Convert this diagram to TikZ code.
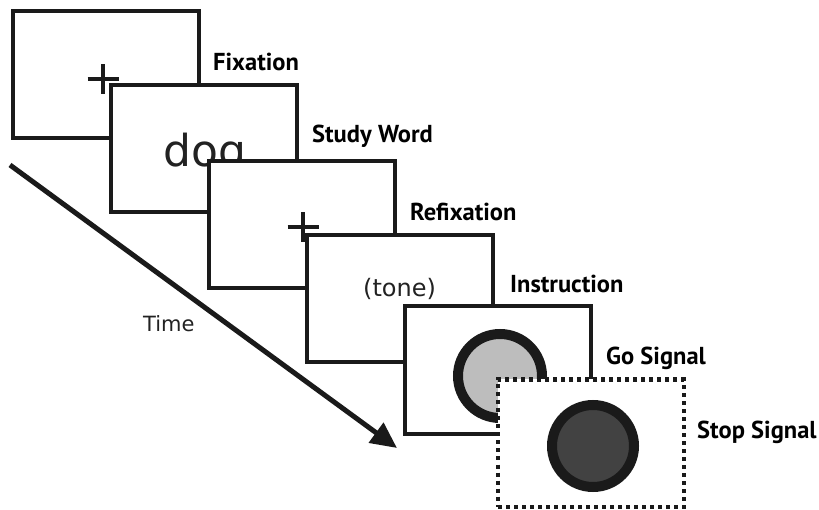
\documentclass[tikz,border=0pt]{standalone}
\usepackage{fontspec}
\setmainfont{DejaVu Sans}
\newfontfamily\labelfont{PT Sans}
\usetikzlibrary{arrows.meta}
\definecolor{ink}{HTML}{1A1A1A}
\definecolor{softink}{HTML}{222222}
\definecolor{golight}{HTML}{BDBDBD}
\definecolor{stopdark}{HTML}{424242}
\tikzset{
  screen/.style={draw=ink, line width=4pt, fill=white, minimum width=186pt, minimum height=127pt, inner sep=0pt},
  dotscreen/.style={screen, draw=ink, dash pattern=on 4pt off 4pt},
  lbl/.style={anchor=base west, inner sep=0pt, font=\labelfont\bfseries\fontsize{24.5}{28}\selectfont, text=black},
  stim/.style={anchor=base west, inner sep=0pt, text=softink},
  crossbar/.style={draw=ink, line width=3.5pt},
  signal/.style={circle, draw=ink, line width=10pt, minimum size=84pt, inner sep=0pt},
  timearrow/.style={draw=ink, line width=5pt, -{Triangle[length=26pt,width=24pt]}}
}
\begin{document}
\begin{tikzpicture}[x=1pt,y=-1pt]
\useasboundingbox (0,0) rectangle (819,510);
% screen 1
\node[screen] (s1) at (106,75) {};
\coordinate (p1) at (103,79);
\draw[crossbar] ([xshift=-15.5pt]p1) -- ([xshift=15.5pt]p1);
\draw[crossbar] ([yshift=-15pt]p1) -- ([yshift=15pt]p1);
% screen 2
\node[screen] (s2) at (204,149) {};
\node[stim, font=\fontsize{44}{50}\selectfont] (dog) at (163,167) {dog};
% screen 3
\node[screen] (s3) at (302,225) {};
\coordinate (p3) at (303,227);
\draw[crossbar] ([xshift=-15.5pt]p3) -- ([xshift=15.5pt]p3);
\draw[crossbar] ([yshift=-15pt]p3) -- ([yshift=15pt]p3);
% screen 4
\node[screen] (s4) at (400,299) {};
\node[stim, font=\fontsize{24}{28}\selectfont] (tone) at (363,297) {(tone)};
% screen 5
\node[screen] (s5) at (498,370) {};
\node[signal, fill=golight] (go) at (500,376) {};
% screen 6
\node[dotscreen] (s6) at (591,443) {};
\node[signal, fill=stopdark, minimum size=82pt] (stop) at (593,446) {};
% labels
\node[lbl] (l1) at (213,71) {Fixation};
\node[lbl] (l2) at (312,143) {Study Word};
\node[lbl] (l3) at (410,221) {Refixation};
\node[lbl] (l4) at (510,293) {Instruction};
\node[lbl] (l5) at (606,365) {Go Signal};
\node[lbl] (l6) at (697,438) {Stop Signal};
% time arrow
\coordinate (t0) at (10,165);
\coordinate (t1) at (397,448);
\draw[timearrow] (t0) -- (t1);
\node[stim, font=\fontsize{21}{25}\selectfont] (time) at (143,332) {Time};
\end{tikzpicture}
\end{document}
